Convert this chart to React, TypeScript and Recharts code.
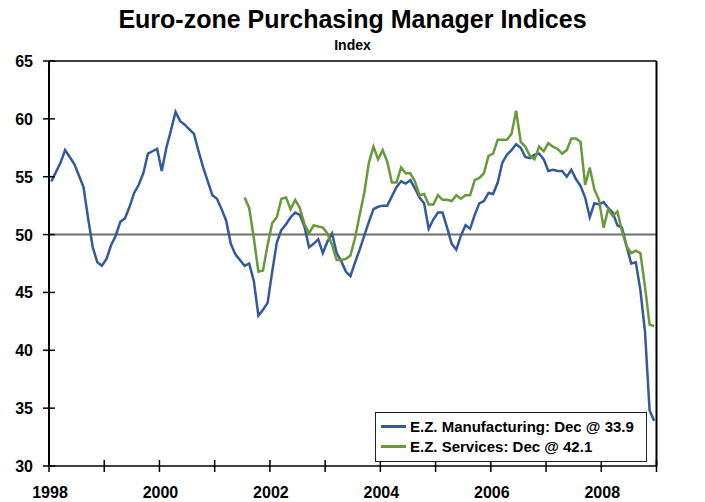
// Euro-zone PMI: manufacturing vs services, monthly, with the 50 line marked.

import { LineChart, Line, XAxis, YAxis, ReferenceLine, Legend } from 'recharts'

const FONT = "'Liberation Sans', Arial, sans-serif"
const BLUE = '#345a97'
const GREEN = '#68993b'

const START_YEAR = 1998
// services series begins Jul 2001 (month index 42)
const SVC_START = 42

// Jan 1998 .. Dec 2008
const manufacturing = [
  54.6, 55.4, 56.2, 57.3, 56.7, 56.1, 55.1, 54.1, 51.4, 48.9, 47.6, 47.3,
  47.9, 49.1, 49.9, 51.1, 51.4, 52.4, 53.6, 54.3, 55.3, 57.0, 57.2, 57.4,
  55.5, 57.5, 59.0, 60.6, 59.8, 59.5, 59.1, 58.7, 57.2, 55.8, 54.6, 53.4,
  53.1, 52.2, 51.2, 49.2, 48.3, 47.8, 47.3, 47.5, 46.0, 43.0, 43.5, 44.1,
  46.8, 49.3, 50.4, 50.9, 51.5, 51.9, 51.7, 50.7, 48.9, 49.2, 49.6, 48.4,
  49.4, 50.1, 48.4, 47.7, 46.8, 46.4, 47.6, 48.7, 49.9, 51.1, 52.2, 52.4,
  52.5, 52.5, 53.3, 54.1, 54.6, 54.4, 54.7, 54.0, 53.2, 52.7, 50.5, 51.3,
  51.9, 51.9, 50.6, 49.2, 48.7, 49.9, 50.8, 50.5, 51.7, 52.7, 52.9, 53.6,
  53.5, 54.5, 56.2, 56.9, 57.3, 57.8, 57.5, 56.7, 56.6, 56.9, 57.0, 56.5,
  55.5, 55.6, 55.5, 55.5, 55.0, 55.6, 54.8, 54.2, 53.2, 51.5, 52.7, 52.6,
  52.8, 52.3, 51.9, 50.8, 50.6, 49.0, 47.5, 47.6, 45.2, 41.6, 34.8, 33.9,
]

// Jul 2001 .. Dec 2008
const services = [
  53.2, 52.3, 49.7, 46.8, 46.9, 49.1,
  51.0, 51.5, 53.1, 53.2, 52.2, 53.0, 52.3, 50.9, 50.1, 50.8, 50.7, 50.6,
  50.1, 49.1, 47.8, 47.8, 47.9, 48.2, 49.7, 51.7, 53.6, 56.2, 57.6, 56.5,
  57.3, 56.3, 54.5, 54.5, 55.8, 55.3, 55.3, 54.6, 53.4, 53.5, 52.6, 52.6,
  53.4, 53.0, 53.0, 52.9, 53.4, 53.1, 53.4, 53.4, 54.7, 54.9, 55.3, 56.8,
  57.0, 58.2, 58.2, 58.2, 58.7, 60.7, 58.0, 57.6, 56.8, 56.5, 57.6, 57.2,
  57.9, 57.6, 57.4, 57.0, 57.3, 58.3, 58.3, 58.0, 54.3, 55.8, 53.9, 53.0,
  50.6, 52.2, 51.6, 52.0, 50.3, 49.0, 48.4, 48.6, 48.4, 45.5, 42.2, 42.1,
]

const yTicks = [30, 35, 40, 45, 50, 55, 60, 65]
const yearTicks = [1998, 1999, 2000, 2001, 2002, 2003, 2004, 2005, 2006, 2007, 2008, 2009]
const labelledYears = [1998, 2000, 2002, 2004, 2006, 2008]

// each month sits in the middle of its slot
const data = manufacturing.map((v, i) => ({
  x: i + 0.5,
  mfg: v,
  svc: i >= SVC_START ? services[i - SVC_START] : null,
}))
const xTicks = yearTicks.map((y) => (y - START_YEAR) * 12)

const lastMfg = manufacturing[manufacturing.length - 1]
const lastSvc = services[services.length - 1]

const TICK_HALF = 6
const LEFT_MARGIN = 16
const RIGHT_MARGIN = 13

const labelStyle = { fontFamily: FONT, fontWeight: 'bold' as const, fontSize: 16, fill: '#000' }

function LeftTick({ x, y, payload }: any) {
  const ax = x + LEFT_MARGIN
  return (
    <g>
      <line x1={ax - TICK_HALF} x2={ax + TICK_HALF} y1={y} y2={y} stroke="#000" strokeWidth={1.5} />
      <text x={x} y={y} dy={6} textAnchor="end" {...labelStyle}>
        {payload.value}
      </text>
    </g>
  )
}

function RightTick({ x, y, payload }: any) {
  const ax = x - RIGHT_MARGIN
  return (
    <g>
      <line x1={ax - TICK_HALF} x2={ax + TICK_HALF} y1={y} y2={y} stroke="#000" strokeWidth={1.5} />
      <text x={x} y={y} dy={6} textAnchor="start" {...labelStyle}>
        {payload.value}
      </text>
    </g>
  )
}

function YearTick({ x, y, payload }: any) {
  const year = START_YEAR + payload.value / 12
  return (
    <g>
      <line x1={x} x2={x} y1={y - TICK_HALF} y2={y + TICK_HALF} stroke="#000" strokeWidth={1.5} />
      {labelledYears.includes(year) && (
        <text x={x + 1} y={y + 32} textAnchor="middle" {...labelStyle}>
          {year}
        </text>
      )}
    </g>
  )
}

function LegendBox({ payload }: any) {
  return (
    <div
      style={{
        border: '1.5px solid #222',
        background: '#fff',
        padding: '3px 6px 5px 5px',
        fontFamily: FONT,
        fontWeight: 'bold',
        fontSize: 15,
        color: '#000',
      }}
    >
      {(payload ?? []).map((p: any) => (
        <div key={p.value} style={{ display: 'flex', alignItems: 'center', height: 20 }}>
          <span
            style={{ display: 'inline-block', width: 25, height: 3, background: p.color, marginRight: 4 }}
          />
          <span>{p.value}</span>
        </div>
      ))}
    </div>
  )
}

export default function App() {
  return (
    <div style={{ position: 'absolute', left: 0, top: 0, width: 705, height: 502, background: '#fff' }}>
      <div
        style={{
          position: 'absolute',
          top: 6,
          left: 0,
          width: 705,
          textAlign: 'center',
          fontFamily: FONT,
          fontWeight: 'bold',
          fontSize: 25,
          lineHeight: '27px',
        }}
      >
        Euro-zone Purchasing Manager Indices
      </div>
      <div
        style={{
          position: 'absolute',
          top: 37,
          left: 0,
          width: 705,
          textAlign: 'center',
          fontFamily: FONT,
          fontWeight: 'bold',
          fontSize: 14,
          lineHeight: '16px',
        }}
      >
        Index
      </div>
      <LineChart width={705} height={502} data={data} margin={{ top: 61, right: 0, bottom: 0, left: 0 }}>
        <XAxis
          dataKey="x"
          type="number"
          domain={[0, 132]}
          ticks={xTicks}
          interval={0}
          height={36}
          tickSize={0}
          tickMargin={0}
          tickLine={false}
          tick={<YearTick />}
          axisLine={{ stroke: '#000', strokeWidth: 1.5 }}
        />
        <YAxis
          yAxisId="left"
          domain={[30, 65]}
          ticks={yTicks}
          interval={0}
          width={49}
          tickSize={0}
          tickMargin={LEFT_MARGIN}
          tickLine={false}
          tick={<LeftTick />}
          axisLine={{ stroke: '#000', strokeWidth: 2 }}
        />
        <YAxis
          yAxisId="right"
          orientation="right"
          domain={[30, 65]}
          ticks={yTicks}
          interval={0}
          width={48.5}
          tickSize={0}
          tickMargin={RIGHT_MARGIN}
          tickLine={false}
          tick={<RightTick />}
          axisLine={{ stroke: '#000', strokeWidth: 2 }}
        />
        <ReferenceLine yAxisId="left" y={65} stroke="#000" strokeWidth={1.5} />
        <ReferenceLine yAxisId="left" y={50} stroke="#6e6e6e" strokeWidth={2} />
        <Line
          yAxisId="left"
          dataKey="mfg"
          name={`E.Z. Manufacturing: Dec @ ${lastMfg}`}
          stroke={BLUE}
          strokeWidth={2.5}
          dot={false}
          isAnimationActive={false}
        />
        <Line
          yAxisId="left"
          dataKey="svc"
          name={`E.Z. Services: Dec @ ${lastSvc}`}
          stroke={GREEN}
          strokeWidth={2.5}
          dot={false}
          isAnimationActive={false}
        />
        <Legend
          layout="vertical"
          align="center"
          verticalAlign="middle"
          content={<LegendBox />}
          wrapperStyle={{ left: 375, top: 412, width: 272, height: 'auto' }}
        />
      </LineChart>
    </div>
  )
}
